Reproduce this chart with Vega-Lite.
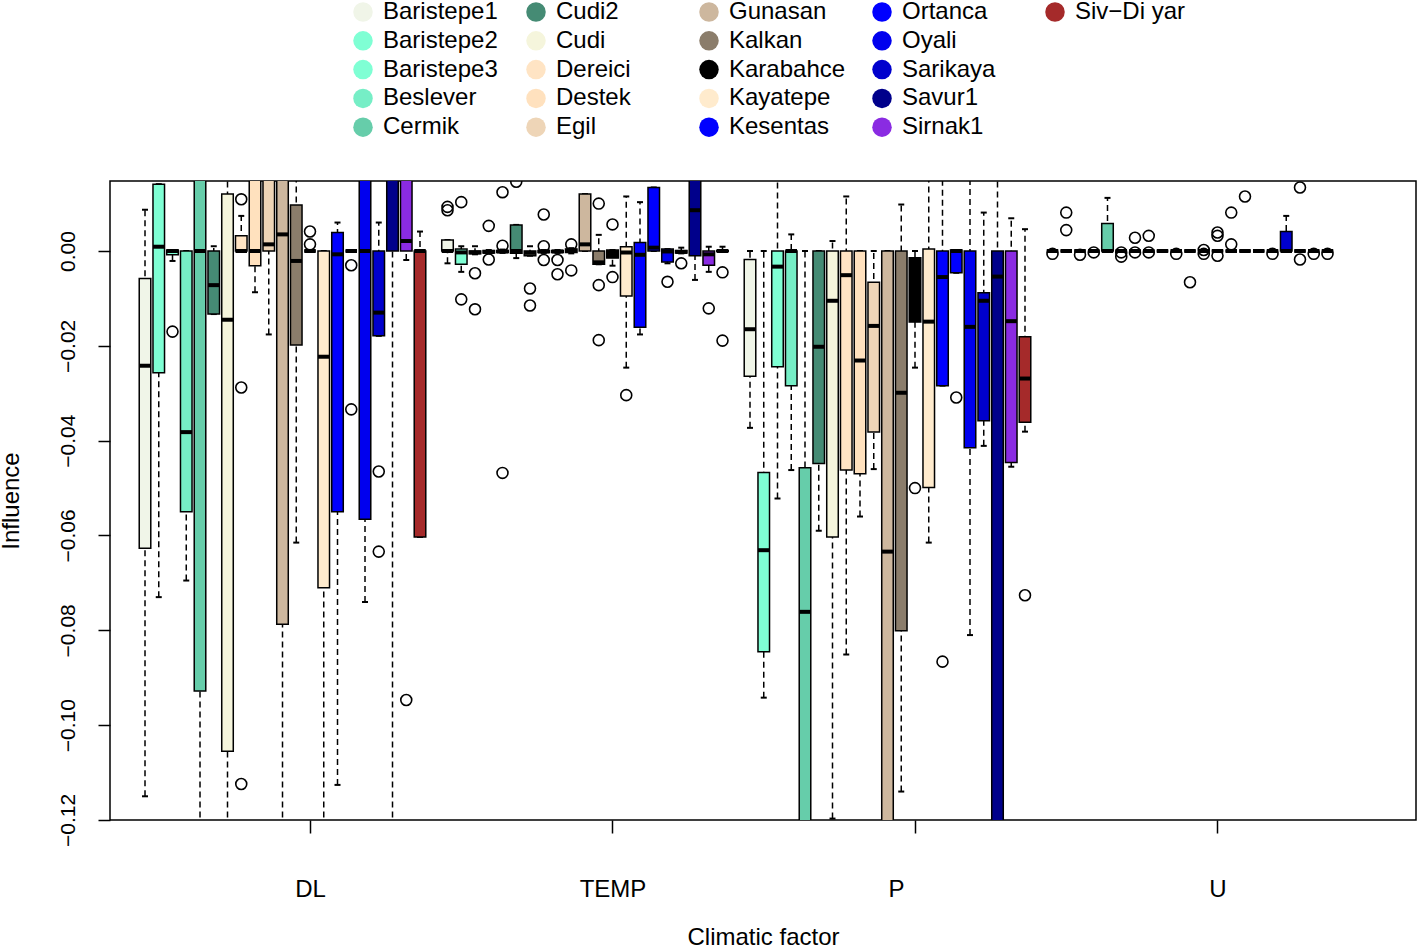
{
  "$schema": "https://vega.github.io/schema/vega-lite/v6.json",
  "autosize": {"type": "none"},
  "width": 1306,
  "height": 639,
  "padding": {"left": 110, "top": 181, "right": 2, "bottom": 126},
  "background": "white",
  "config": {
    "view": {"stroke": "black", "strokeWidth": 1.5},
    "axis": {"labelFont": "Liberation Sans", "titleFont": "Liberation Sans", "labelColor": "black", "titleColor": "black", "tickColor": "black", "domain": false, "grid": false, "tickWidth": 1.5, "titleFontWeight": "normal"},
    "axisY": {"labelAngle": -90, "labelAlign": "center", "labelBaseline": "bottom", "labelFontSize": 21, "labelPadding": 20, "tickSize": 12, "titleFontSize": 24, "titlePadding": 34, "format": ".2f"},
    "axisX": {"labelAngle": 0, "labelFontSize": 24, "labelPadding": 44, "tickSize": 13, "titleFontSize": 24, "titlePadding": 24}
  },
  "datasets": {
    "boxes": [
      {"f":"DL","s":"Baristepe1","lo":-0.115,"q1":-0.0627,"md":-0.0242,"q3":-0.0058,"hi":0.0087},
      {"f":"DL","s":"Baristepe2","lo":-0.073,"q1":-0.0257,"md":0.0009,"q3":0.0141,"hi":0.0141},
      {"f":"DL","s":"Baristepe3","lo":-0.0021,"q1":-0.0008,"md":0,"q3":0.0002,"hi":0.0002},
      {"f":"DL","s":"Beslever","lo":-0.0695,"q1":-0.055,"md":-0.0382,"q3":0,"hi":0},
      {"f":"DL","s":"Cermik","lo":-0.13,"q1":-0.0928,"md":0,"q3":0.02,"hi":0.03},
      {"f":"DL","s":"Cudi2","lo":-0.0133,"q1":-0.0133,"md":-0.0072,"q3":0,"hi":0.001},
      {"f":"DL","s":"Cudi","lo":-0.13,"q1":-0.1055,"md":-0.0145,"q3":0.012,"hi":0.03},
      {"f":"DL","s":"Dereici","lo":0,"q1":0,"md":0,"q3":0.0032,"hi":0.0074},
      {"f":"DL","s":"Destek","lo":-0.0087,"q1":-0.0031,"md":0,"q3":0.02,"hi":0.03},
      {"f":"DL","s":"Egil","lo":-0.0176,"q1":0,"md":0.0014,"q3":0.02,"hi":0.03},
      {"f":"DL","s":"Gunasan","lo":-0.13,"q1":-0.0787,"md":0.0035,"q3":0.02,"hi":0.03},
      {"f":"DL","s":"Kalkan","lo":-0.0615,"q1":-0.0198,"md":-0.0021,"q3":0.0097,"hi":0.03},
      {"f":"DL","s":"Karabahce","lo":0,"q1":0,"md":0,"q3":0,"hi":0},
      {"f":"DL","s":"Kayatepe","lo":-0.13,"q1":-0.071,"md":-0.0223,"q3":0,"hi":0},
      {"f":"DL","s":"Kesentas","lo":-0.1126,"q1":-0.055,"md":-0.0007,"q3":0.0039,"hi":0.006},
      {"f":"DL","s":"Ortanca","lo":0,"q1":0,"md":0,"q3":0,"hi":0},
      {"f":"DL","s":"Oyali","lo":-0.074,"q1":-0.0566,"md":0,"q3":0.02,"hi":0.03},
      {"f":"DL","s":"Sarikaya","lo":-0.0179,"q1":-0.0179,"md":-0.013,"q3":0,"hi":0.006},
      {"f":"DL","s":"Savur1","lo":-0.13,"q1":0,"md":0.02,"q3":0.025,"hi":0.03},
      {"f":"DL","s":"Sirnak1","lo":-0.0019,"q1":0,"md":0.0021,"q3":0.02,"hi":0.03},
      {"f":"DL","s":"Siv−Di yar","lo":-0.0603,"q1":-0.0603,"md":0,"q3":0,"hi":0.0041},

      {"f":"TEMP","s":"Baristepe1","lo":-0.0026,"q1":0,"md":0,"q3":0.0023,"hi":0.0023},
      {"f":"TEMP","s":"Baristepe2","lo":-0.0044,"q1":-0.0028,"md":-0.0003,"q3":0.0004,"hi":0.001},
      {"f":"TEMP","s":"Baristepe3","lo":-0.0007,"q1":-0.0006,"md":-0.0003,"q3":0,"hi":0.001},
      {"f":"TEMP","s":"Beslever","lo":-0.0005,"q1":-0.0004,"md":-0.0002,"q3":0.0001,"hi":0.0002},
      {"f":"TEMP","s":"Cermik","lo":-0.0004,"q1":-0.0003,"md":-0.0001,"q3":0.0001,"hi":0.0003},
      {"f":"TEMP","s":"Cudi2","lo":-0.0015,"q1":-0.0005,"md":0,"q3":0.0055,"hi":0.0055},
      {"f":"TEMP","s":"Cudi","lo":-0.001,"q1":-0.001,"md":-0.0004,"q3":0,"hi":0.001},
      {"f":"TEMP","s":"Dereici","lo":-0.0004,"q1":-0.0003,"md":-0.0001,"q3":0.0001,"hi":0.0002},
      {"f":"TEMP","s":"Destek","lo":-0.0004,"q1":-0.0003,"md":-0.0001,"q3":0.0001,"hi":0.0002},
      {"f":"TEMP","s":"Egil","lo":-0.0005,"q1":-0.0003,"md":0.0001,"q3":0.0004,"hi":0.0006},
      {"f":"TEMP","s":"Gunasan","lo":0,"q1":0,"md":0.0014,"q3":0.012,"hi":0.012},
      {"f":"TEMP","s":"Kalkan","lo":-0.0028,"q1":-0.0028,"md":-0.0024,"q3":0,"hi":0.0034},
      {"f":"TEMP","s":"Karabahce","lo":-0.0031,"q1":-0.0015,"md":-0.0005,"q3":0.0002,"hi":0.0002},
      {"f":"TEMP","s":"Kayatepe","lo":-0.0246,"q1":-0.0095,"md":-0.0003,"q3":0.0009,"hi":0.0115},
      {"f":"TEMP","s":"Kesentas","lo":-0.0176,"q1":-0.0161,"md":-0.0008,"q3":0.0018,"hi":0.0103},
      {"f":"TEMP","s":"Ortanca","lo":0,"q1":0,"md":0.0007,"q3":0.0134,"hi":0.0134},
      {"f":"TEMP","s":"Oyali","lo":-0.0026,"q1":-0.0023,"md":-0.0001,"q3":0.0004,"hi":0.0004},
      {"f":"TEMP","s":"Sarikaya","lo":-0.0005,"q1":-0.0004,"md":-0.0002,"q3":0.0001,"hi":0.0007},
      {"f":"TEMP","s":"Savur1","lo":-0.0061,"q1":-0.001,"md":0.0086,"q3":0.02,"hi":0.03},
      {"f":"TEMP","s":"Sirnak1","lo":-0.0044,"q1":-0.003,"md":-0.0007,"q3":0,"hi":0.0009},
      {"f":"TEMP","s":"Siv−Di yar","lo":-0.0002,"q1":-0.0001,"md":0,"q3":0.0001,"hi":0.0009},

      {"f":"P","s":"Baristepe1","lo":-0.0373,"q1":-0.0264,"md":-0.0165,"q3":-0.0018,"hi":0},
      {"f":"P","s":"Baristepe2","lo":-0.0942,"q1":-0.0845,"md":-0.0631,"q3":-0.0467,"hi":0},
      {"f":"P","s":"Baristepe3","lo":-0.0522,"q1":-0.0244,"md":-0.0033,"q3":0,"hi":0.03},
      {"f":"P","s":"Beslever","lo":-0.0462,"q1":-0.0284,"md":0,"q3":0,"hi":0.0035},
      {"f":"P","s":"Cermik","lo":-0.13,"q1":-0.125,"md":-0.0761,"q3":-0.0457,"hi":0},
      {"f":"P","s":"Cudi2","lo":-0.059,"q1":-0.0448,"md":-0.0202,"q3":0,"hi":0},
      {"f":"P","s":"Cudi","lo":-0.1197,"q1":-0.0603,"md":-0.0105,"q3":0,"hi":0.0021},
      {"f":"P","s":"Dereici","lo":-0.0851,"q1":-0.0462,"md":-0.0051,"q3":0,"hi":0.0115},
      {"f":"P","s":"Destek","lo":-0.056,"q1":-0.047,"md":-0.0231,"q3":0,"hi":0},
      {"f":"P","s":"Egil","lo":-0.046,"q1":-0.0382,"md":-0.0158,"q3":-0.0066,"hi":0},
      {"f":"P","s":"Gunasan","lo":-0.13,"q1":-0.125,"md":-0.0634,"q3":0,"hi":0},
      {"f":"P","s":"Kalkan","lo":-0.114,"q1":-0.0801,"md":-0.0299,"q3":0,"hi":0.0098},
      {"f":"P","s":"Karabahce","lo":-0.0246,"q1":-0.015,"md":-0.008,"q3":-0.0014,"hi":0},
      {"f":"P","s":"Kayatepe","lo":-0.0615,"q1":-0.0499,"md":-0.0149,"q3":0.0004,"hi":0.03},
      {"f":"P","s":"Kesentas","lo":-0.0284,"q1":-0.0284,"md":-0.0055,"q3":0,"hi":0.03},
      {"f":"P","s":"Ortanca","lo":-0.0046,"q1":-0.0046,"md":0,"q3":0.0002,"hi":0.0002},
      {"f":"P","s":"Oyali","lo":-0.081,"q1":-0.0415,"md":-0.016,"q3":0,"hi":0.03},
      {"f":"P","s":"Sarikaya","lo":-0.0411,"q1":-0.0358,"md":-0.0105,"q3":-0.0088,"hi":0.0081},
      {"f":"P","s":"Savur1","lo":-0.13,"q1":-0.125,"md":-0.0054,"q3":0,"hi":0.03},
      {"f":"P","s":"Sirnak1","lo":-0.0455,"q1":-0.0446,"md":-0.0148,"q3":0,"hi":0.0069},
      {"f":"P","s":"Siv−Di yar","lo":-0.0381,"q1":-0.0361,"md":-0.0269,"q3":-0.0181,"hi":0.0046},

      {"f":"U","s":"Baristepe1","lo":0,"q1":0,"md":0,"q3":0,"hi":0},
      {"f":"U","s":"Baristepe2","lo":0,"q1":0,"md":0,"q3":0,"hi":0},
      {"f":"U","s":"Baristepe3","lo":0,"q1":0,"md":0,"q3":0,"hi":0},
      {"f":"U","s":"Beslever","lo":0,"q1":0,"md":0,"q3":0,"hi":0},
      {"f":"U","s":"Cermik","lo":0,"q1":0,"md":0,"q3":0.0058,"hi":0.0112},
      {"f":"U","s":"Cudi2","lo":0,"q1":0,"md":0,"q3":0,"hi":0},
      {"f":"U","s":"Cudi","lo":0,"q1":0,"md":0,"q3":0,"hi":0},
      {"f":"U","s":"Dereici","lo":0,"q1":0,"md":0,"q3":0,"hi":0},
      {"f":"U","s":"Destek","lo":0,"q1":0,"md":0,"q3":0,"hi":0},
      {"f":"U","s":"Egil","lo":0,"q1":0,"md":0,"q3":0,"hi":0},
      {"f":"U","s":"Gunasan","lo":0,"q1":0,"md":0,"q3":0,"hi":0},
      {"f":"U","s":"Kalkan","lo":0,"q1":0,"md":0,"q3":0,"hi":0},
      {"f":"U","s":"Karabahce","lo":0,"q1":0,"md":0,"q3":0,"hi":0},
      {"f":"U","s":"Kayatepe","lo":0,"q1":0,"md":0,"q3":0,"hi":0},
      {"f":"U","s":"Kesentas","lo":0,"q1":0,"md":0,"q3":0,"hi":0},
      {"f":"U","s":"Ortanca","lo":0,"q1":0,"md":0,"q3":0,"hi":0},
      {"f":"U","s":"Oyali","lo":0,"q1":0,"md":0,"q3":0,"hi":0},
      {"f":"U","s":"Sarikaya","lo":0,"q1":0,"md":0,"q3":0.0041,"hi":0.0074},
      {"f":"U","s":"Savur1","lo":0,"q1":0,"md":0,"q3":0,"hi":0},
      {"f":"U","s":"Sirnak1","lo":0,"q1":0,"md":0,"q3":0,"hi":0},
      {"f":"U","s":"Siv−Di yar","lo":0,"q1":0,"md":0,"q3":0,"hi":0}
    ],
    "outs": [
      {"f":"DL","s":"Baristepe3","v":-0.017},
      {"f":"DL","s":"Dereici","v":0.0109},
      {"f":"DL","s":"Dereici","v":-0.0288},
      {"f":"DL","s":"Dereici","v":-0.1124},
      {"f":"DL","s":"Karabahce","v":0.0041},
      {"f":"DL","s":"Karabahce","v":0.0014},
      {"f":"DL","s":"Ortanca","v":-0.003},
      {"f":"DL","s":"Ortanca","v":-0.0334},
      {"f":"DL","s":"Sarikaya","v":-0.0465},
      {"f":"DL","s":"Sarikaya","v":-0.0634},
      {"f":"DL","s":"Sirnak1","v":-0.0947},
      {"f":"TEMP","s":"Baristepe1","v":0.0093},
      {"f":"TEMP","s":"Baristepe1","v":0.0086},
      {"f":"TEMP","s":"Baristepe2","v":0.0103},
      {"f":"TEMP","s":"Baristepe2","v":-0.0102},
      {"f":"TEMP","s":"Baristepe3","v":-0.0047},
      {"f":"TEMP","s":"Baristepe3","v":-0.0123},
      {"f":"TEMP","s":"Beslever","v":0.0053},
      {"f":"TEMP","s":"Beslever","v":-0.0018},
      {"f":"TEMP","s":"Cermik","v":0.0124},
      {"f":"TEMP","s":"Cermik","v":0.0011},
      {"f":"TEMP","s":"Cermik","v":-0.0468},
      {"f":"TEMP","s":"Cudi2","v":0.0146},
      {"f":"TEMP","s":"Cudi","v":-0.0079},
      {"f":"TEMP","s":"Cudi","v":-0.0115},
      {"f":"TEMP","s":"Dereici","v":0.0077},
      {"f":"TEMP","s":"Dereici","v":0.001},
      {"f":"TEMP","s":"Dereici","v":-0.0019},
      {"f":"TEMP","s":"Destek","v":-0.0019},
      {"f":"TEMP","s":"Destek","v":-0.0049},
      {"f":"TEMP","s":"Egil","v":0.0014},
      {"f":"TEMP","s":"Egil","v":-0.0041},
      {"f":"TEMP","s":"Kalkan","v":0.01},
      {"f":"TEMP","s":"Kalkan","v":-0.0072},
      {"f":"TEMP","s":"Kalkan","v":-0.0188},
      {"f":"TEMP","s":"Karabahce","v":0.0056},
      {"f":"TEMP","s":"Karabahce","v":-0.0055},
      {"f":"TEMP","s":"Kayatepe","v":-0.0304},
      {"f":"TEMP","s":"Oyali","v":-0.0065},
      {"f":"TEMP","s":"Sarikaya","v":-0.0026},
      {"f":"TEMP","s":"Sirnak1","v":-0.0121},
      {"f":"TEMP","s":"Siv−Di yar","v":-0.0045},
      {"f":"TEMP","s":"Siv−Di yar","v":-0.0189},
      {"f":"P","s":"Karabahce","v":-0.05},
      {"f":"P","s":"Kesentas","v":-0.0866},
      {"f":"P","s":"Ortanca","v":-0.0309},
      {"f":"P","s":"Siv−Di yar","v":-0.0726},
      {"f":"U","s":"Baristepe1","v":-0.0006},
      {"f":"U","s":"Baristepe2","v":0.0081},
      {"f":"U","s":"Baristepe2","v":0.0044},
      {"f":"U","s":"Baristepe3","v":-0.0008},
      {"f":"U","s":"Beslever","v":-0.0003},
      {"f":"U","s":"Cudi2","v":-0.0003},
      {"f":"U","s":"Cudi2","v":-0.0012},
      {"f":"U","s":"Cudi","v":0.0028},
      {"f":"U","s":"Cudi","v":-0.0003},
      {"f":"U","s":"Dereici","v":0.0032},
      {"f":"U","s":"Dereici","v":-0.0003},
      {"f":"U","s":"Egil","v":-0.0006},
      {"f":"U","s":"Gunasan","v":-0.0066},
      {"f":"U","s":"Kalkan","v":0.0002},
      {"f":"U","s":"Kalkan","v":-0.0006},
      {"f":"U","s":"Karabahce","v":0.0039},
      {"f":"U","s":"Karabahce","v":0.0032},
      {"f":"U","s":"Karabahce","v":-0.001},
      {"f":"U","s":"Kayatepe","v":0.0081},
      {"f":"U","s":"Kayatepe","v":0.0014},
      {"f":"U","s":"Kesentas","v":0.0115},
      {"f":"U","s":"Oyali","v":-0.0006},
      {"f":"U","s":"Savur1","v":0.0134},
      {"f":"U","s":"Savur1","v":-0.0018},
      {"f":"U","s":"Sirnak1","v":-0.0006},
      {"f":"U","s":"Siv−Di yar","v":-0.0006}
    ]
  },
  "encoding": {
    "x": {"field": "f", "type": "nominal", "title": "Climatic factor",
      "scale": {"domain": ["DL", "TEMP", "P", "U"], "paddingInner": 0, "paddingOuter": 0.1587, "align": 0.293},
      "axis": {"tickOffset": 20.6, "labelOffset": {"condition": {"test": "datum.value === 'P'", "value": -19}, "value": 0}}},
    "xOffset": {"field": "s", "type": "nominal",
      "scale": {"domain": ["Baristepe1","Baristepe2","Baristepe3","Beslever","Cermik","Cudi2","Cudi","Dereici","Destek","Egil","Gunasan","Kalkan","Karabahce","Kayatepe","Kesentas","Ortanca","Oyali","Sarikaya","Savur1","Sirnak1","Siv−Di yar","zgap"], "paddingInner": 0.16, "paddingOuter": 0.08}}
  },
  "layer": [
    {
      "data": {"name": "boxes"},
      "mark": {"type": "rule", "strokeDash": [6, 4], "strokeWidth": 1.5, "color": "black", "opacity": 1, "clip": true},
      "encoding": {
        "y": {"field": "lo", "type": "quantitative", "title": "Influence", "scale": {"domain": [-0.12, 0.01476], "nice": false, "zero": false}, "axis": {"values": [-0.12, -0.1, -0.08, -0.06, -0.04, -0.02, 0]}},
        "y2": {"field": "hi"}
      }
    },
    {
      "data": {"name": "boxes"},
      "mark": {"type": "tick", "size": 6, "thickness": 2, "color": "black", "opacity": 1, "clip": true},
      "encoding": {
        "y": {"field": "lo", "type": "quantitative", "title": "Influence", "scale": {"domain": [-0.12, 0.01476], "nice": false, "zero": false}, "axis": {"values": [-0.12, -0.1, -0.08, -0.06, -0.04, -0.02, 0]}}
      }
    },
    {
      "data": {"name": "boxes"},
      "mark": {"type": "tick", "size": 6, "thickness": 2, "color": "black", "opacity": 1, "clip": true},
      "encoding": {
        "y": {"field": "hi", "type": "quantitative", "title": "Influence", "scale": {"domain": [-0.12, 0.01476], "nice": false, "zero": false}, "axis": {"values": [-0.12, -0.1, -0.08, -0.06, -0.04, -0.02, 0]}}
      }
    },
    {
      "data": {"name": "boxes"},
      "mark": {"type": "bar", "stroke": "black", "strokeWidth": 1.5, "clip": true, "opacity": 1},
      "encoding": {
        "y": {"field": "q1", "type": "quantitative", "title": "Influence", "scale": {"domain": [-0.12, 0.01476], "nice": false, "zero": false}, "axis": {"values": [-0.12, -0.1, -0.08, -0.06, -0.04, -0.02, 0]}},
        "y2": {"field": "q3"},
        "color": {"field": "s", "type": "nominal",
          "scale": {
            "domain": ["Baristepe1","Baristepe2","Baristepe3","Beslever","Cermik","Cudi2","Cudi","Dereici","Destek","Egil","Gunasan","Kalkan","Karabahce","Kayatepe","Kesentas","Ortanca","Oyali","Sarikaya","Savur1","Sirnak1","Siv−Di yar","zz1","zz2","zz3","zz4"],
            "range": ["#F0F5E8","#7FFFD4","#7FFFD4","#76EEC6","#66CDAA","#458B74","#F5F5DC","#FFE4C4","#FFE1BE","#EED5B7","#CDB79E","#8B7D6B","#000000","#FFEBCD","#0000FF","#0000FF","#0000EE","#0000CD","#00008B","#8A2BE2","#A52A2A","rgba(0,0,0,0)","rgba(0,0,0,0)","rgba(0,0,0,0)","rgba(0,0,0,0)"]
          },
          "legend": {"orient": "none", "direction": "vertical", "legendX": 241, "legendY": -181, "columns": 5, "gridAlign": "all", "columnPadding": 24, "rowPadding": 4.8, "symbolType": "circle", "symbolSize": 380, "symbolStrokeWidth": 0, "symbolOpacity": 1, "labelFontSize": 24, "labelFont": "Liberation Sans", "labelColor": "black", "labelOffset": 8, "labelLimit": 300, "title": null, "padding": 0, "labelExpr": "indexof(datum.label, 'zz') == 0 ? '' : datum.label"}
        }
      }
    },
    {
      "data": {"name": "boxes"},
      "mark": {"type": "tick", "size": 11.5, "thickness": 4, "color": "black", "opacity": 1, "clip": true},
      "encoding": {
        "y": {"field": "md", "type": "quantitative", "title": "Influence", "scale": {"domain": [-0.12, 0.01476], "nice": false, "zero": false}, "axis": {"values": [-0.12, -0.1, -0.08, -0.06, -0.04, -0.02, 0]}}
      }
    },
    {
      "data": {"name": "outs"},
      "mark": {"type": "point", "shape": "circle", "filled": false, "stroke": "black", "strokeWidth": 1.6, "size": 120, "opacity": 1, "clip": true},
      "encoding": {
        "y": {"field": "v", "type": "quantitative", "title": "Influence", "scale": {"domain": [-0.12, 0.01476], "nice": false, "zero": false}, "axis": {"values": [-0.12, -0.1, -0.08, -0.06, -0.04, -0.02, 0]}}
      }
    }
  ]
}
